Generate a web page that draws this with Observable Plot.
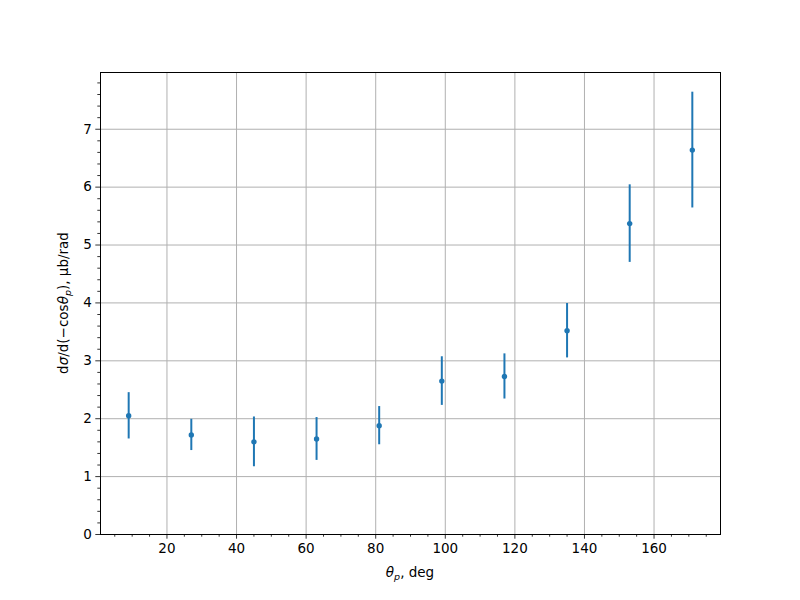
<!DOCTYPE html>
<html><head><meta charset="utf-8">
<script src="https://cdn.jsdelivr.net/npm/d3@7"></script>
<script src="https://cdn.jsdelivr.net/npm/@observablehq/plot@0.6"></script>
<style>body{margin:0;background:#fff;font-family:"DejaVu Sans",sans-serif}</style>
</head><body><div id="c"></div>
<script>
const theta = [9, 27, 45, 63, 81, 99, 117, 135, 153, 171];
const xsec  = [2.05, 1.72, 1.60, 1.65, 1.88, 2.65, 2.73, 3.52, 5.37, 6.64];
const err   = [0.40, 0.27, 0.43, 0.37, 0.33, 0.42, 0.39, 0.47, 0.67, 1.00];
const xTicks = [20, 40, 60, 80, 100, 120, 140, 160];
const yTicks = [0, 1, 2, 3, 4, 5, 6, 7];
const xMinor = d3.range(5, 180, 5).filter(v => v % 20 !== 0);
const yMinor = d3.range(0, 8.0, 0.2).filter(v => Math.abs(v - Math.round(v)) > 1e-6);

const data = theta.map((t, i) => ({t, y: xsec[i], lo: xsec[i] - err[i], hi: xsec[i] + err[i]}));
const blue = "#1f77b4";

const chart = Plot.plot({
  width: 800, height: 600,
  marginLeft: 100, marginRight: 80, marginTop: 72, marginBottom: 66,
  style: {fontFamily: "DejaVu Sans, sans-serif", fontSize: "13.5px", color: "#000", background: "#fff"},
  x: {domain: [0.9, 179.1]},
  y: {domain: [0, 7.98]},
  marks: [
    Plot.gridX(xTicks, {stroke: "#b0b0b0", strokeOpacity: 1, strokeWidth: 1}),
    Plot.gridY(yTicks, {stroke: "#b0b0b0", strokeOpacity: 1, strokeWidth: 1}),
    Plot.axisX(xMinor, {tickSize: 2.7, tickFormat: null, text: null, label: null, stroke: "#000", strokeWidth: 0.8}),
    Plot.axisY(yMinor, {tickSize: 2.7, tickFormat: null, text: null, label: null, stroke: "#000", strokeWidth: 0.8}),
    Plot.axisX(xTicks, {tickSize: 4.7, tickPadding: 4, tickFormat: d3.format("d"), label: null, fontSize: 13.5, stroke: "#000", strokeWidth: 0.8}),
    Plot.axisY(yTicks, {tickSize: 4.7, tickPadding: 4, tickFormat: d3.format("d"), label: null, fontSize: 13.5, stroke: "#000", strokeWidth: 0.8}),
    Plot.ruleX(data, {x: "t", y1: "lo", y2: "hi", stroke: blue, strokeWidth: 2}),
    Plot.dot(data, {x: "t", y: "y", r: 2.7, fill: blue, stroke: null}),
    Plot.frame({stroke: "#000", strokeWidth: 1})
  ]
});
document.getElementById("c").appendChild(chart);

const svg = d3.select(chart);
const xl = svg.append("text").attr("x", 410).attr("y", 577).attr("text-anchor", "middle")
  .attr("font-size", 13.5).attr("fill", "#000");
xl.append("tspan").attr("font-style", "italic").text("θ");
xl.append("tspan").attr("font-style", "italic").attr("font-size", 9.5).attr("dy", 3).text("p");
xl.append("tspan").attr("dy", -3).text(", deg");

const yl = svg.append("text").attr("transform", "translate(68,303) rotate(-90)").attr("text-anchor", "middle")
  .attr("font-size", 13.5).attr("fill", "#000");
yl.append("tspan").text("d");
yl.append("tspan").attr("font-style", "italic").text("σ");
yl.append("tspan").text("/d(−cos");
yl.append("tspan").attr("font-style", "italic").text("θ");
yl.append("tspan").attr("font-style", "italic").attr("font-size", 9.5).attr("dy", 3).text("p");
yl.append("tspan").attr("dy", -3).text("), μb/rad");
</script></body></html>
